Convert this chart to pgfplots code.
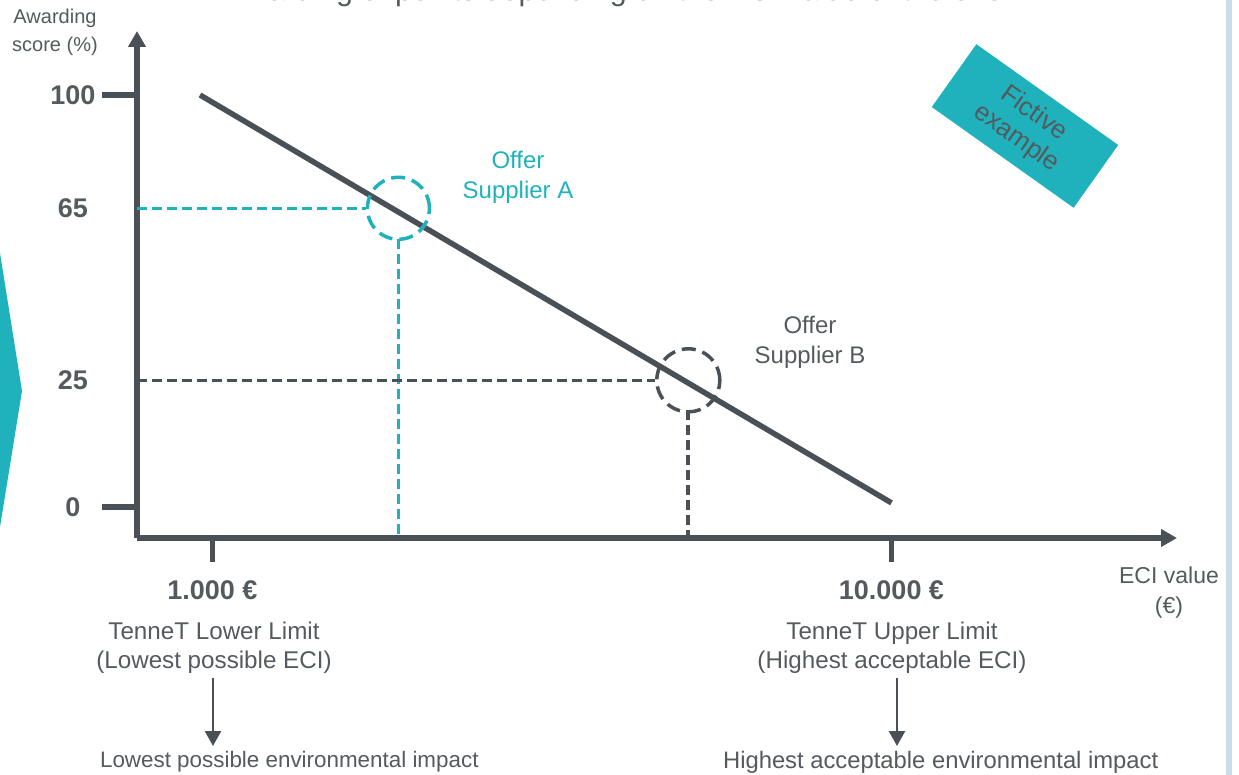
\documentclass[border=0pt]{standalone}
\usepackage{fontspec}
\setmainfont{Liberation Sans}
\usepackage{pgfplots}
\pgfplotsset{compat=1.18}
\usetikzlibrary{arrows.meta}

\definecolor{ink}{RGB}{74,81,86}
\definecolor{txt}{RGB}{84,90,94}
\definecolor{tennet}{RGB}{31,178,189}
\definecolor{sidebar}{RGB}{201,221,230}

\begin{document}
\begin{tikzpicture}
% axis box placed in a 1239x775 px frame, 1 px = 0.5pt, origin top left
\begin{axis}[
  at={(68.5pt,-269pt)}, anchor=south west,
  scale only axis, width=520pt, height=253.5pt,
  xmin=0, xmax=13784, ymin=-7.52, ymax=115.53,
  axis lines=left,
  axis line style={ink, line width=2.75pt},
  every outer x axis line/.append style={-{Triangle[width=8.5pt,length=8pt]}},
  every outer y axis line/.append style={-{Triangle[width=8.5pt,length=8pt]}},
  major tick length=0pt,
  tick style={draw=none},
  scaled x ticks=false,
  xtick={1000,10000},
  xticklabels={1.000 €, 10.000 €},
  ytick={0,30.75,72.5,100},
  yticklabels={0,25,65,100},
  ticklabel style={font=\bfseries\fontsize{13.5}{16}\selectfont, text=txt, anchor=center},
  xticklabel style={yshift=-26pt},
  yticklabel style={xshift=-32pt},
  clip=false,
]
% tick marks
\draw[ink, line width=2.75pt] (axis cs:0,100) -- ([xshift=-17.5pt]axis cs:0,100);
\draw[ink, line width=2.75pt] (axis cs:0,0) -- ([xshift=-17.5pt]axis cs:0,0);
\draw[ink, line width=2.75pt] (axis cs:1000,-7.52) -- ([yshift=-12pt]axis cs:1000,-7.52);
\draw[ink, line width=2.75pt] (axis cs:10000,-7.52) -- ([yshift=-12pt]axis cs:10000,-7.52);

% score line
\addplot[ink, line width=2.75pt] coordinates {(835,100) (10000,1)};

% offer supplier A
\addplot[tennet, line width=1.75pt, dash pattern=on 5pt off 2.5pt] coordinates {(0,72.5) (3035,72.5)};
\addplot[tennet, line width=1.75pt, dash pattern=on 5pt off 2.5pt] coordinates {(3465,65) (3465,-7.52)};
\addplot[tennet, only marks, mark=o, mark size=15.5pt,
  mark options={line width=1.75pt, dash pattern=on 7pt off 3.5pt}] coordinates {(3465,72.5)};

% offer supplier B
\addplot[ink, line width=1.75pt, dash pattern=on 5pt off 2.5pt] coordinates {(0,30.75) (6866,30.75)};
\addplot[ink, line width=1.75pt, dash pattern=on 5pt off 2.5pt] coordinates {(7303,23.5) (7303,-7.52)};
\addplot[ink, only marks, mark=o, mark size=15.75pt,
  mark options={line width=1.75pt, dash pattern=on 7pt off 3.5pt}] coordinates {(7307,30.75)};

\node[text=tennet, align=center, font=\fontsize{12}{15}\selectfont] at (axis cs:5050,80.1) {Offer\\Supplier A};
\node[text=txt, align=center, font=\fontsize{12}{15}\selectfont] at (axis cs:8920,40) {Offer\\Supplier B};
\end{axis}

\begin{scope}[x=0.5pt,y=-0.5pt]
\fill[tennet] (0,253) -- (22,391) -- (0,527) -- cycle;
\fill[sidebar] (1226,0) rectangle (1232,775);
\node[anchor=base, text=txt, font=\fontsize{15.2}{18}\selectfont] at (620,1)
  {Awarding of points depending on the ECI value of the offer};
\node[text=txt, align=center, font=\fontsize{10}{14}\selectfont] at (55,32) {Awarding\\score (\%)};
\node[text=txt, align=center, font=\fontsize{11.5}{15}\selectfont] at (1169,593) {ECI value\\(€)};
\node[rotate=-35.4, fill=tennet, minimum width=87pt, minimum height=38.5pt, inner sep=0pt,
  text=txt, align=center, font=\fontsize{13}{15}\selectfont] at (1025,126) {Fictive\\example};

\node[text=txt, align=center, font=\fontsize{12.1}{14.5}\selectfont] at (214,648)
  {TenneT Lower Limit\\(Lowest possible ECI)};
\node[text=txt, align=center, font=\fontsize{12.1}{14.5}\selectfont] at (892,648)
  {TenneT Upper Limit\\(Highest acceptable ECI)};
\draw[ink, line width=1.2pt, -{Triangle[width=8pt,length=7.5pt]}] (213,678) -- (213,746);
\draw[ink, line width=1.2pt, -{Triangle[width=8pt,length=7.5pt]}] (897,678) -- (897,746);
\node[anchor=west, text=txt, font=\fontsize{11.2}{14.5}\selectfont] at (93,762)
  {Lowest possible environmental impact};
\node[anchor=west, text=txt, font=\fontsize{11.9}{14.5}\selectfont] at (716,762)
  {Highest acceptable environmental impact};

\pgfresetboundingbox
\path[use as bounding box] (0,0) rectangle (1239,775);
\end{scope}
\end{tikzpicture}
\end{document}
